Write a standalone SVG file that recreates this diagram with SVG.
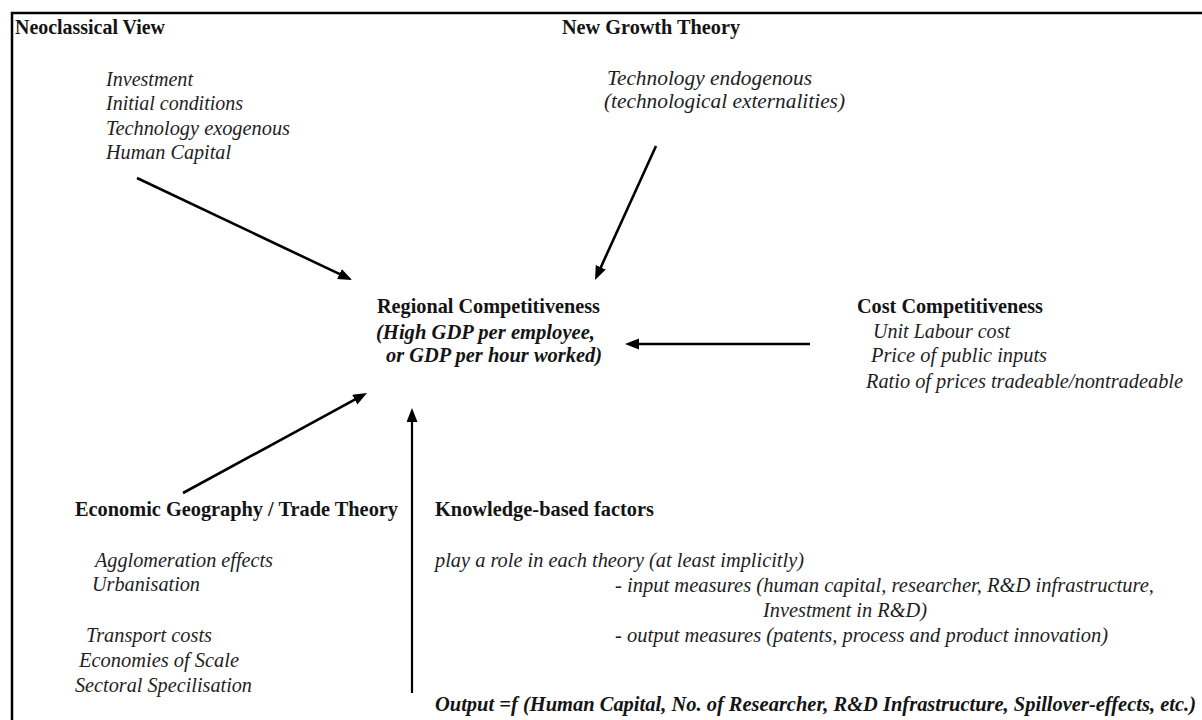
<svg xmlns="http://www.w3.org/2000/svg" width="1202" height="720" viewBox="0 0 1202 720">
  <style>
    text { font-family: "Liberation Serif", "Times New Roman", serif; font-size: 21px; fill: #141414; }
    .h { font-weight: bold; }
    .i { font-style: italic; fill: #1e1e1e; }
    .bi { font-weight: bold; font-style: italic; }
    .frame { stroke: #000; stroke-width: 2.5; fill: none; }
    .arrow { stroke: #000; stroke-width: 2.6; fill: none; marker-end: url(#head); }
    .thin { stroke-width: 2.2; }
  </style>
  <defs>
    <marker id="head" markerUnits="userSpaceOnUse" markerWidth="15" markerHeight="12" refX="1" refY="5.5" orient="auto">
      <path d="M0,0 L14,5.5 L0,11 z" fill="#000"/>
    </marker>
  </defs>

  <rect width="1202" height="720" fill="#fff"/>

  <!-- page frame (top and left rules) -->
  <path class="frame" d="M12,720 L12,13 L1202,13"/>

  <g id="neoclassical">
    <text class="h" x="15" y="34" textLength="150" lengthAdjust="spacingAndGlyphs">Neoclassical View</text>
    <text class="i" x="106" y="86" textLength="87" lengthAdjust="spacingAndGlyphs">Investment</text>
    <text class="i" x="106" y="110" textLength="137" lengthAdjust="spacingAndGlyphs">Initial conditions</text>
    <text class="i" x="106" y="135" textLength="184" lengthAdjust="spacingAndGlyphs">Technology exogenous</text>
    <text class="i" x="106" y="159" textLength="125" lengthAdjust="spacingAndGlyphs">Human Capital</text>
  </g>

  <g id="new-growth">
    <text class="h" x="562" y="34" textLength="178" lengthAdjust="spacingAndGlyphs">New Growth Theory</text>
    <text class="i" x="607" y="85" textLength="205" lengthAdjust="spacingAndGlyphs">Technology endogenous</text>
    <text class="i" x="604" y="108" textLength="241" lengthAdjust="spacingAndGlyphs">(technological externalities)</text>
  </g>

  <g id="regional">
    <text class="h" x="377" y="313" textLength="223" lengthAdjust="spacingAndGlyphs">Regional Competitiveness</text>
    <text class="bi" x="376" y="339" textLength="219" lengthAdjust="spacingAndGlyphs">(High GDP per employee,</text>
    <text class="bi" x="386" y="362" textLength="216" lengthAdjust="spacingAndGlyphs">or GDP per hour worked)</text>
  </g>

  <g id="cost">
    <text class="h" x="857" y="313" textLength="186" lengthAdjust="spacingAndGlyphs">Cost Competitiveness</text>
    <text class="i" x="873" y="338" textLength="137" lengthAdjust="spacingAndGlyphs">Unit Labour cost</text>
    <text class="i" x="871" y="362" textLength="176" lengthAdjust="spacingAndGlyphs">Price of public inputs</text>
    <text class="i" x="866" y="388" textLength="317" lengthAdjust="spacingAndGlyphs">Ratio of prices tradeable/nontradeable</text>
  </g>

  <g id="geography">
    <text class="h" x="75" y="516" textLength="323" lengthAdjust="spacingAndGlyphs">Economic Geography / Trade Theory</text>
    <text class="i" x="95" y="567" textLength="178" lengthAdjust="spacingAndGlyphs">Agglomeration effects</text>
    <text class="i" x="92" y="591" textLength="108" lengthAdjust="spacingAndGlyphs">Urbanisation</text>
    <text class="i" x="86" y="642" textLength="126" lengthAdjust="spacingAndGlyphs">Transport costs</text>
    <text class="i" x="79" y="667" textLength="160" lengthAdjust="spacingAndGlyphs">Economies of Scale</text>
    <text class="i" x="75" y="692" textLength="177" lengthAdjust="spacingAndGlyphs">Sectoral Specilisation</text>
  </g>

  <g id="knowledge">
    <text class="h" x="435" y="516" textLength="219" lengthAdjust="spacingAndGlyphs">Knowledge-based factors</text>
    <text class="i" x="435" y="567" textLength="369" lengthAdjust="spacingAndGlyphs">play a role in each theory (at least implicitly)</text>
    <text class="i" x="615" y="592" textLength="539" lengthAdjust="spacingAndGlyphs">- input measures (human capital, researcher, R&amp;D infrastructure,</text>
    <text class="i" x="763" y="617" textLength="164" lengthAdjust="spacingAndGlyphs">Investment in R&amp;D)</text>
    <text class="i" x="615" y="642" textLength="493" lengthAdjust="spacingAndGlyphs">- output measures (patents, process and product innovation)</text>
    <text class="bi" x="435" y="711" style="font-size:20px" textLength="761" lengthAdjust="spacingAndGlyphs">Output =f (Human Capital, No. of Researcher, R&amp;D Infrastructure, Spillover-effects, etc.)</text>
  </g>

  <g id="connectors">
    <line class="arrow" x1="137" y1="178" x2="340.3" y2="274.4"/>
    <line class="arrow" x1="656" y1="146" x2="600.4" y2="268.2"/>
    <line class="arrow" x1="810" y1="344" x2="638" y2="344"/>
    <line class="arrow" x1="183" y1="493" x2="355.6" y2="399.2"/>
    <line class="arrow thin" x1="412" y1="693" x2="412" y2="421"/>
  </g>
</svg>
